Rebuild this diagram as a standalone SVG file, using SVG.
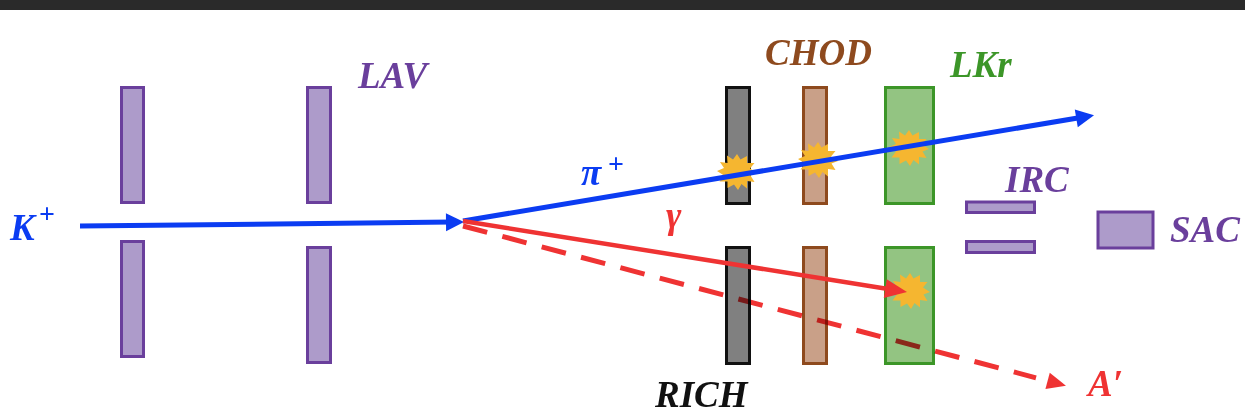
<svg xmlns="http://www.w3.org/2000/svg" width="1245" height="418" viewBox="0 0 1245 418">
<style>
.lbl{font-family:"Liberation Serif","DejaVu Serif",serif;font-weight:bold;font-style:italic;font-size:37px}
.pur{fill:#6a3f9c}
.lav{fill:#ad9bca;stroke:#6a3f9c;stroke-width:3}
.rich{fill:#808080;stroke:#111111;stroke-width:3}
.chod{fill:#c9a088;stroke:#8e4a1e;stroke-width:3}
.lkr{fill:#93c482;stroke:#3c9628;stroke-width:3}
.burst{fill:#f5b630}
.blue{stroke:#0b3cf2;stroke-width:5;fill:none}
.red{stroke:#ef3333;stroke-width:4.5;fill:none}
.dash{stroke:#ef3333;stroke-width:5;fill:none;stroke-dasharray:25 15.7;mix-blend-mode:multiply}
</style>
<defs>
<marker id="ahBlue" markerUnits="userSpaceOnUse" markerWidth="20" markerHeight="20" refX="6" refY="9" orient="auto" overflow="visible"><path d="M0,0 L18,9 L0,18 z" fill="#0b3cf2"/></marker>
<marker id="ahRed" markerUnits="userSpaceOnUse" markerWidth="24" markerHeight="20" refX="6" refY="9.5" orient="auto" overflow="visible"><path d="M0,0 L22,9.5 L0,19 z" fill="#ef3333"/></marker>
<marker id="ahDash" markerUnits="userSpaceOnUse" markerWidth="20" markerHeight="20" refX="-12" refY="8.5" orient="auto" overflow="visible"><path d="M0,0 L19,8.5 L0,17 z" fill="#ef3333"/></marker>
<path id="burstShape" d="M20,1 L13.5,3.5 L17.5,10 L10,9 L10,16.5 L4.5,12 L1,18 L-3,12.5 L-9.5,16 L-9.5,9.5 L-17.5,9.5 L-13,3.5 L-20,-1 L-13,-4 L-17,-10 L-9.5,-9 L-10,-16.5 L-4,-12.5 L0,-18 L3.5,-12.5 L10,-16 L10,-9 L17.5,-9 L13,-3.5 z"/>
</defs>
<rect x="0" y="0" width="1245" height="10" fill="#2a2a2a"/>

<g id="LAV">
<rect class="lav" x="121.5" y="87.5" width="22" height="115"/>
<rect class="lav" x="121.5" y="241.5" width="22" height="115"/>
<rect class="lav" x="307.5" y="87.5" width="23" height="115"/>
<rect class="lav" x="307.5" y="247.5" width="23" height="115"/>
<text class="lbl pur" x="358" y="88">LAV</text>
</g>

<g id="RICH">
<rect class="rich" x="726.5" y="87.5" width="23" height="116"/>
<rect class="rich" x="726.5" y="247.5" width="23" height="116"/>
<text class="lbl" x="655" y="407" fill="#111111">RICH</text>
</g>

<g id="CHOD">
<rect class="chod" x="803.5" y="87.5" width="23" height="116"/>
<rect class="chod" x="803.5" y="247.5" width="23" height="116"/>
<text class="lbl" x="765" y="65" fill="#8e4a1e">CHOD</text>
</g>

<g id="LKr">
<rect class="lkr" x="885.5" y="87.5" width="48" height="116"/>
<rect class="lkr" x="885.5" y="247.5" width="48" height="116"/>
<text class="lbl" x="950" y="77" fill="#3c9628">LKr</text>
</g>

<g id="IRC">
<rect class="lav" x="966.5" y="202" width="68" height="10.5"/>
<rect class="lav" x="966.5" y="241.5" width="68" height="11"/>
<text class="lbl pur" x="1005" y="192">IRC</text>
</g>

<g id="SAC">
<rect class="lav" x="1098" y="212" width="55" height="36"/>
<text class="lbl pur" x="1170" y="242">SAC</text>
</g>

<g id="bursts">
<use href="#burstShape" class="burst" x="737" y="172"/>
<use href="#burstShape" class="burst" x="818" y="160"/>
<use href="#burstShape" class="burst" x="909" y="148"/>
<use href="#burstShape" class="burst" x="910" y="291"/>
</g>

<g id="connectors">
<line class="dash" x1="463" y1="226" x2="1036" y2="377.8" marker-end="url(#ahDash)"/>
<line class="blue" x1="80" y1="226" x2="452" y2="222.1" marker-end="url(#ahBlue)"/>
<line class="blue" x1="463" y1="221" x2="1082.2" y2="117.3" marker-end="url(#ahBlue)"/>
<line class="red" x1="463" y1="221" x2="891.2" y2="289.5" marker-end="url(#ahRed)"/>
</g>

<g id="particle-labels">
<text class="lbl" x="10" y="240" fill="#0b3cf2">K</text>
<text class="lbl" x="39" y="223" fill="#0b3cf2" style="font-size:28px;font-style:normal">+</text>
<text class="lbl" x="581" y="185" fill="#0b3cf2">π</text>
<text class="lbl" x="608" y="173" fill="#0b3cf2" style="font-size:28px;font-style:normal">+</text>
<text class="lbl" x="666" y="228" fill="#ef3333">γ</text>
<text class="lbl" x="1088" y="396" fill="#ef3333">A′</text>
</g>
</svg>
